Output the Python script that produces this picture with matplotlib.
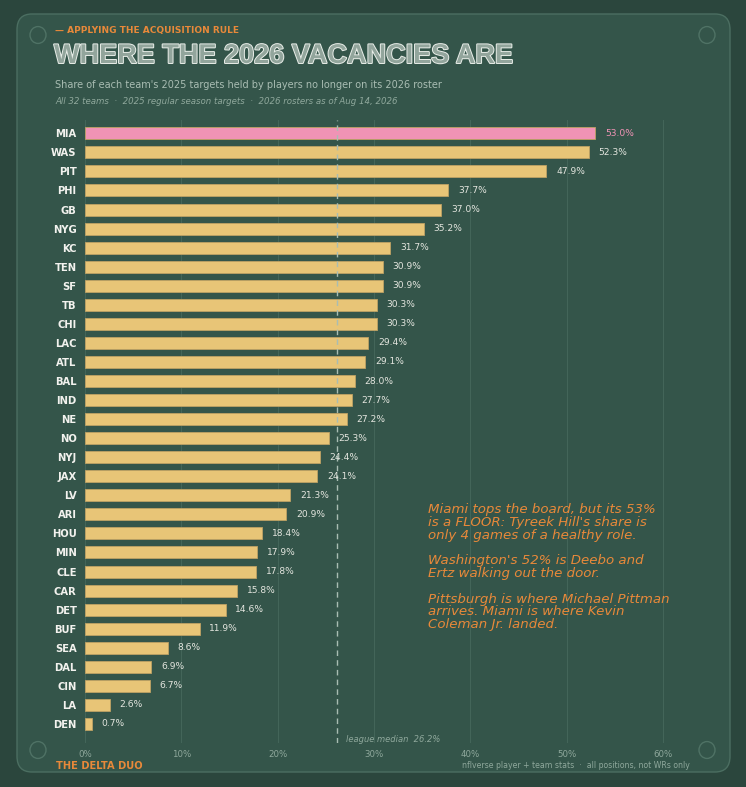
import matplotlib.pyplot as plt
import matplotlib.patheffects as pe
from matplotlib.patches import FancyBboxPatch, Circle

teams = ['MIA', 'WAS', 'PIT', 'PHI', 'GB', 'NYG', 'KC', 'TEN', 'SF', 'TB', 'CHI',
         'LAC', 'ATL', 'BAL', 'IND', 'NE', 'NO', 'NYJ', 'JAX', 'LV', 'ARI', 'HOU',
         'MIN', 'CLE', 'CAR', 'DET', 'BUF', 'SEA', 'DAL', 'CIN', 'LA', 'DEN']
vacated = [53.0, 52.3, 47.9, 37.7, 37.0, 35.2, 31.7, 30.9, 30.9, 30.3, 30.3,
           29.4, 29.1, 28.0, 27.7, 27.2, 25.3, 24.4, 24.1, 21.3, 20.9, 18.4,
           17.9, 17.8, 15.8, 14.6, 11.9, 8.6, 6.9, 6.7, 2.6, 0.7]
highlight = 'MIA'
median = 26.2
xticks = [0, 10, 20, 30, 40, 50, 60]

OUTER = '#2b463d'
PANEL = '#34554a'
GOLD = '#e8c577'
PINK = '#f093b5'
ORANGE = '#e8893a'
MUTED = '#8fa89c'
SOFT = '#a9bdb3'

fig = plt.figure(figsize=(7.46, 7.87), dpi=100)
fig.patch.set_facecolor(OUTER)

W, H = 746, 787
def fx(px): return px / W
def fy(py): return 1 - py / H

# panel behind everything
panel = FancyBboxPatch((fx(17), fy(772)), fx(730) - fx(17), fy(14) - fy(772),
                       boxstyle='round,pad=0,rounding_size=0.02',
                       transform=fig.transFigure, facecolor=PANEL,
                       edgecolor='#4b6e61', lw=1, zorder=-5)
fig.patches.append(panel)
for cx, cy in [(38, 35), (707, 35), (38, 750), (707, 750)]:
    fig.patches.append(Circle((fx(cx), fy(cy)), 8 / W, transform=fig.transFigure,
                              facecolor='none', edgecolor='#4f7265', lw=1, zorder=-4))

ax = fig.add_axes([fx(85), fy(743), fx(687) - fx(85), fy(120) - fy(743)])
ax.set_facecolor('none')
ax.set_zorder(2)

ypos = list(range(len(teams)))
colors = [PINK if t == highlight else GOLD for t in teams]
ax.barh(ypos, vacated, height=0.63, color=colors, edgecolor='#bfa264',
        linewidth=0.6, zorder=2)
for y, v, t in zip(ypos, vacated, teams):
    ax.annotate(f'{v:.1f}%', (v, y), xytext=(7, 0), textcoords='offset points',
                va='center', ha='left', fontsize=6.6,
                color=PINK if t == highlight else '#e4e6df', zorder=4)

ax.axvline(median, color=SOFT, lw=1, ls=(0, (4, 3)), zorder=3)
ax.text(median + 0.9, 31.8, f'league median  {median}%', fontsize=6,
        style='italic', color=MUTED, va='center', ha='left')

ax.set_xlim(0, 62.5)
ax.set_ylim(32.0, -0.7)
ax.set_xticks(xticks)
ax.set_xticklabels([f'{t}%' for t in xticks])
ax.set_yticks(ypos)
ax.set_yticklabels(teams)
ax.tick_params(axis='x', colors=MUTED, labelsize=6.2, length=0, pad=5)
ax.tick_params(axis='y', colors='#f2f2ee', labelsize=7.2, length=0, pad=6)
for lab in ax.get_yticklabels():
    lab.set_fontweight('bold')
ax.grid(axis='x', color='#44665a', lw=0.7, zorder=0)
for s in ax.spines.values():
    s.set_visible(False)

# header
fig.text(fx(55), fy(30), '— APPLYING THE ACQUISITION RULE', color=ORANGE,
         fontsize=6.5, fontweight='bold', va='center')
fig.text(fx(54), fy(56), 'WHERE THE 2026 VACANCIES ARE', color='#92a59c',
         fontsize=19.5, fontweight='bold', va='center', family='Liberation Sans',
         path_effects=[pe.Stroke(linewidth=1.4, foreground='#e9eee9'), pe.Normal()])
fig.text(fx(55), fy(85), "Share of each team's 2025 targets held by players no longer on its 2026 roster",
         color=SOFT, fontsize=7, va='center')
fig.text(fx(55), fy(101), 'All 32 teams  ·  2025 regular season targets  ·  2026 rosters as of Aug 14, 2026',
         color=MUTED, fontsize=6.2, style='italic', va='center')

# note
note = ("Miami tops the board, but its 53%\n"
        "is a FLOOR: Tyreek Hill's share is\n"
        "only 4 games of a healthy role.\n"
        "\n"
        "Washington's 52% is Deebo and\n"
        "Ertz walking out the door.\n"
        "\n"
        "Pittsburgh is where Michael Pittman\n"
        "arrives. Miami is where Kevin\n"
        "Coleman Jr. landed.")
fig.text(fx(428), fy(503), note, color=ORANGE, fontsize=9.6, style='italic',
         va='top', ha='left', linespacing=0.98)

# footer
fig.text(fx(56), fy(766), 'THE DELTA DUO', color=ORANGE, fontsize=7.1,
         fontweight='bold', va='center')
fig.text(fx(690), fy(766), 'nflverse player + team stats  ·  all positions, not WRs only',
         color=MUTED, fontsize=5.6, va='center', ha='right')

fig.savefig('out.png', dpi=100, facecolor=OUTER)
